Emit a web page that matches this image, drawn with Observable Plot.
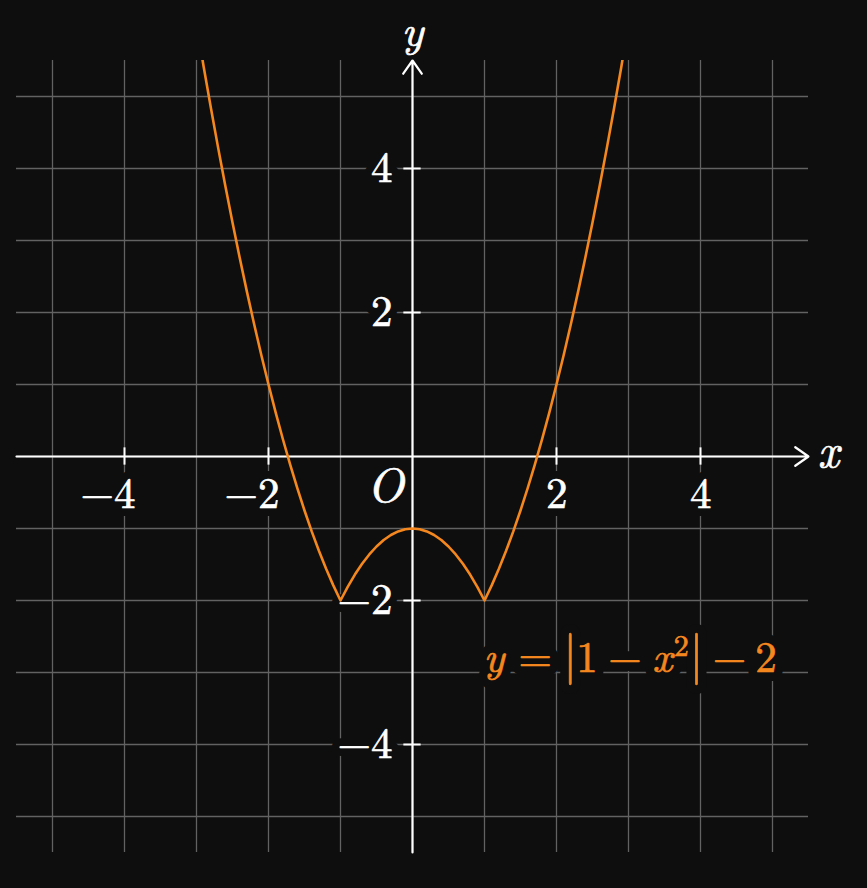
<!DOCTYPE html>
<html>
<head>
<meta charset="utf-8">
<script src="https://cdn.jsdelivr.net/npm/d3@7"></script>
<script src="https://cdn.jsdelivr.net/npm/@observablehq/plot@0.6"></script>
<style>
  html, body { margin: 0; padding: 0; background: #0e0e0e; }
  #chart svg { display: block; overflow: visible; }
  #chart svg text { font-family: 'Latin Modern Roman', 'Liberation Serif', serif; }
</style>
</head>
<body>
<div id="chart"></div>
<script>
// ---- data ----
const gridValues = [-5, -4, -3, -2, -1, 0, 1, 2, 3, 4, 5];
const axisExtent = [-5.5, 5.5];
const xTickValues = [-4, -2, 2, 4];
const xTickLabels = ["−4", "−2", "2", "4"];
const yTickValues = [4, 2, -2, -4];
const yTickLabels = ["4", "2", "−2", "−4"];

const curveX = [-2.92, -2.9, -2.8, -2.7, -2.6, -2.5, -2.4, -2.3, -2.2, -2.1, -2.0,
  -1.9, -1.8, -1.7, -1.6, -1.5, -1.4, -1.3, -1.2, -1.1, -1.0,
  -0.9, -0.8, -0.7, -0.6, -0.5, -0.4, -0.3, -0.2, -0.1, 0,
  0.1, 0.2, 0.3, 0.4, 0.5, 0.6, 0.7, 0.8, 0.9, 1.0,
  1.1, 1.2, 1.3, 1.4, 1.5, 1.6, 1.7, 1.8, 1.9, 2.0,
  2.1, 2.2, 2.3, 2.4, 2.5, 2.6, 2.7, 2.8, 2.9, 2.92];
const curveY = [5.53, 5.41, 4.84, 4.29, 3.76, 3.25, 2.76, 2.29, 1.84, 1.41, 1.00,
  0.61, 0.24, -0.11, -0.44, -0.75, -1.04, -1.31, -1.56, -1.79, -2.00,
  -1.81, -1.64, -1.49, -1.36, -1.25, -1.16, -1.09, -1.04, -1.01, -1.00,
  -1.01, -1.04, -1.09, -1.16, -1.25, -1.36, -1.49, -1.64, -1.81, -2.00,
  -1.79, -1.56, -1.31, -1.04, -0.75, -0.44, -0.11, 0.24, 0.61, 1.00,
  1.41, 1.84, 2.29, 2.76, 3.25, 3.76, 4.29, 4.84, 5.41, 5.53];

const formulaLabel = "y = |1 − x2| − 2";
const formulaPos = {x: 1.0, y: -2.8};

// ---- styles ----
const BG = "#0e0e0e";
const ORANGE = "#f5871f";
const GRID = "#626262";

const curve = curveX.map((x, i) => ({x, y: curveY[i]}));
const xTicks = xTickValues.map((v, i) => ({v, label: xTickLabels[i]}));
const yTicks = yTickValues.map((v, i) => ({v, label: yTickLabels[i]}));

const xLabelOpts = {x: "v", y: () => 0, text: "label", dy: 38, dx: 11, textAnchor: "end", fontSize: 43};
const yLabelOpts = {x: () => 0, y: "v", text: "label", dx: -20, textAnchor: "end", fontSize: 43};
const formulaOpts = {x: "x", y: "y", text: () => formulaLabel, textAnchor: "start", dx: -1, fontSize: 43};

const chart = Plot.plot({
  width: 867,
  height: 888,
  marginLeft: 16,
  marginRight: 59,
  marginTop: 60,
  marginBottom: 36,
  x: {domain: axisExtent, axis: null},
  y: {domain: axisExtent, axis: null},
  style: {background: BG, color: "white"},
  marks: [
    // grid
    Plot.ruleX(gridValues, {x: d => d, y1: axisExtent[0], y2: axisExtent[1], stroke: GRID, strokeWidth: 1.3}),
    Plot.ruleY(gridValues, {y: d => d, x1: axisExtent[0], x2: axisExtent[1], stroke: GRID, strokeWidth: 1.3}),
    // tick label background halos
    Plot.text(xTicks, {...xLabelOpts, fill: BG, stroke: BG, strokeWidth: 16}),
    Plot.text(yTicks, {...yLabelOpts, fill: BG, stroke: BG, strokeWidth: 16}),
    // tick labels
    Plot.text(xTicks, {...xLabelOpts, fill: "white", stroke: "white", strokeWidth: 0.7}),
    Plot.text(yTicks, {...yLabelOpts, fill: "white", stroke: "white", strokeWidth: 0.7}),
    Plot.text(["O"], {x: () => 0, y: () => 0, text: d => d, dx: -27, dy: 30, fontSize: 48,
      fontStyle: "italic", fill: "white", stroke: "white", strokeWidth: 0.7}),
    // axes
    Plot.arrow([0], {x1: axisExtent[0], x2: axisExtent[1], y1: 0, y2: 0, stroke: "white",
      strokeWidth: 2.2, headLength: 11, headAngle: 70}),
    Plot.arrow([0], {x1: 0, x2: 0, y1: axisExtent[0], y2: axisExtent[1], stroke: "white",
      strokeWidth: 2.2, headLength: 11, headAngle: 70}),
    Plot.ruleX(xTickValues, {x: d => d, y1: -0.12, y2: 0.12, stroke: "white", strokeWidth: 2}),
    Plot.ruleY(yTickValues, {y: d => d, x1: -0.12, x2: 0.12, stroke: "white", strokeWidth: 2}),
    Plot.text(["x"], {x: () => axisExtent[1], y: () => 0, text: d => d, dx: 20, dy: -4, fontSize: 46,
      fontStyle: "italic", fill: "white", stroke: "white", strokeWidth: 0.7}),
    Plot.text(["y"], {x: () => 0, y: () => axisExtent[1], text: d => d, dy: -29, fontSize: 45,
      fontStyle: "italic", fill: "white", stroke: "white", strokeWidth: 0.7}),
    // curve
    Plot.line(curve, {x: "x", y: "y", stroke: ORANGE, strokeWidth: 2.6, clip: true}),
    // formula label: background halo copy, then the coloured text
    Plot.text([formulaPos], {...formulaOpts, fill: BG, stroke: BG, strokeWidth: 18}),
    Plot.text([formulaPos], {...formulaOpts, fill: ORANGE, stroke: ORANGE, strokeWidth: 0.7})
  ]
});

document.getElementById("chart").appendChild(chart);

// typeset formula: italic variables, superscript, tall bars, math spacing
d3.select(chart).selectAll("text").filter(function() { return this.textContent === formulaLabel; })
  .each(function() {
    const t = d3.select(this);
    t.text(null);
    const parts = [
      {s: "y", it: true, dx: 0},
      {s: "=", dx: 14},
      {s: "|", dx: 11, size: 52},
      {s: "1", dx: -1},
      {s: "−", dx: 10.5},
      {s: "x", it: true, dx: 10.5},
      {s: "2", dx: 1.5, dy: -16, size: 30},
      {s: "|", dx: 0.5, dy: 16, size: 52},
      {s: "−", dx: 9},
      {s: "2", dx: 9}
    ];
    parts.forEach(p => {
      const ts = t.append("tspan").text(p.s).attr("dx", p.dx);
      if (p.dy) ts.attr("dy", p.dy);
      if (p.it) ts.attr("font-style", "italic");
      if (p.size) ts.attr("font-size", p.size);
    });
  });
</script>
</body>
</html>
